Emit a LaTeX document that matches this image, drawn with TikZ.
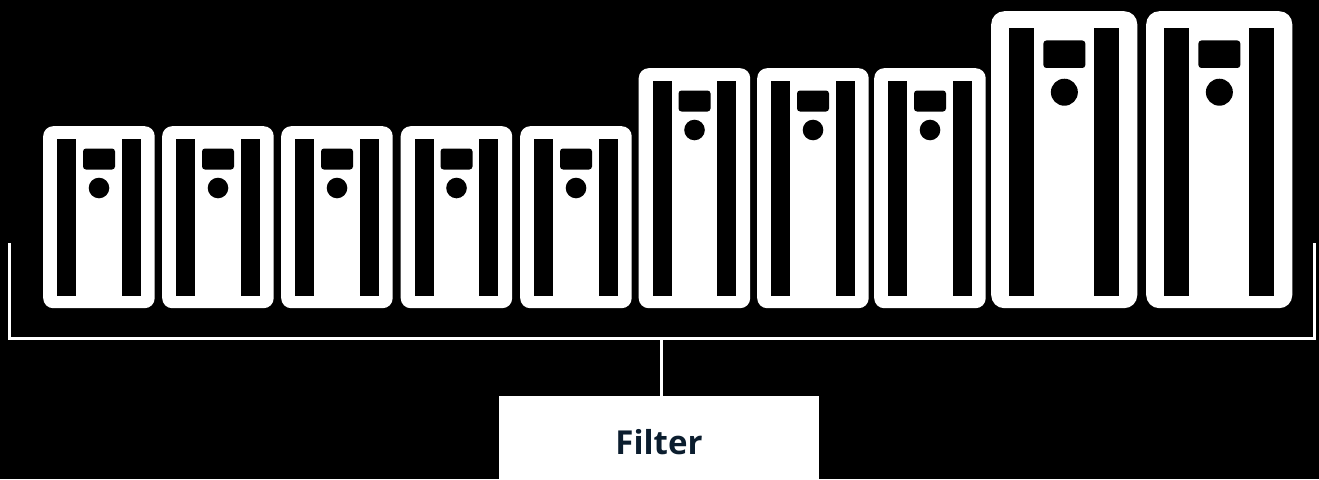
\documentclass[tikz,border=0pt]{standalone}
\usepackage{fontspec}
\setmainfont{Open Sans}
\usepackage{tikz}
\usetikzlibrary{positioning}

\definecolor{filtertext}{RGB}{11,29,46}

\tikzset{
	srvbody/.style={fill=white, inner sep=0pt, anchor=north west},
	bracket/.style={draw=white, line width=3pt},
	filterbox/.style={fill=white, inner sep=0pt, minimum width=320pt, minimum height=91pt, anchor=north, text=filtertext, font=\fontsize{33}{36}\selectfont\bfseries},
}

% #1 name, #2 left, #3 top, #4 scale
\newcommand{\server}[4]{%
	\pgfmathsetmacro\srvrc{10*#4}%
	\pgfmathsetmacro\srvrr{10.3*#4}%
	\pgfmathsetmacro\srvw{111.5*#4}%
	\pgfmathsetmacro\srvh{308-#3}%
	\node[srvbody, rounded corners=\srvrc pt, minimum width=\srvw pt, minimum height=\srvh pt] (#1) at (#2,#3) {};
	\fill[black] ([shift={(14*#4,13*#4)}]#1.north west) rectangle ([shift={(33*#4,-12)}]#1.south west);
	\fill[black] ([shift={(-33*#4,13*#4)}]#1.north east) rectangle ([shift={(-14*#4,-12)}]#1.south east);
	\fill[black, rounded corners=3pt] ([shift={(40*#4,22.5*#4)}]#1.north west) rectangle ++(32*#4,21*#4);
	\fill[black] ([shift={(56*#4,62*#4)}]#1.north west) circle[radius=\srvrr pt];
}

\begin{document}
\begin{tikzpicture}[x=1pt, y=-1pt]
	\fill[black] (0,0) rectangle (1319,479);
	\useasboundingbox (0,0) rectangle (1319,479);

	\foreach \n/\x/\t/\s in {1/43/126/1, 2/162/126/1, 3/281/126/1, 4/400.5/126/1, 5/520/126/1,
		6/638.5/68/1, 7/757/68/1, 8/874/68/1, 9/991/11/1.31, 10/1146/11/1.31}
		\server{s\n}{\x}{\t}{\s};

	\coordinate (bl) at (9,243);
	\coordinate (br) at (1314,243);
	\coordinate (bm) at (661,338);
	\draw[bracket] (bl) |- (bm) -| (br);

	\node[filterbox] (filter) at (659,396) {Filter};
	\draw[bracket] (bm) -- (bm |- filter.north);
\end{tikzpicture}
\end{document}
